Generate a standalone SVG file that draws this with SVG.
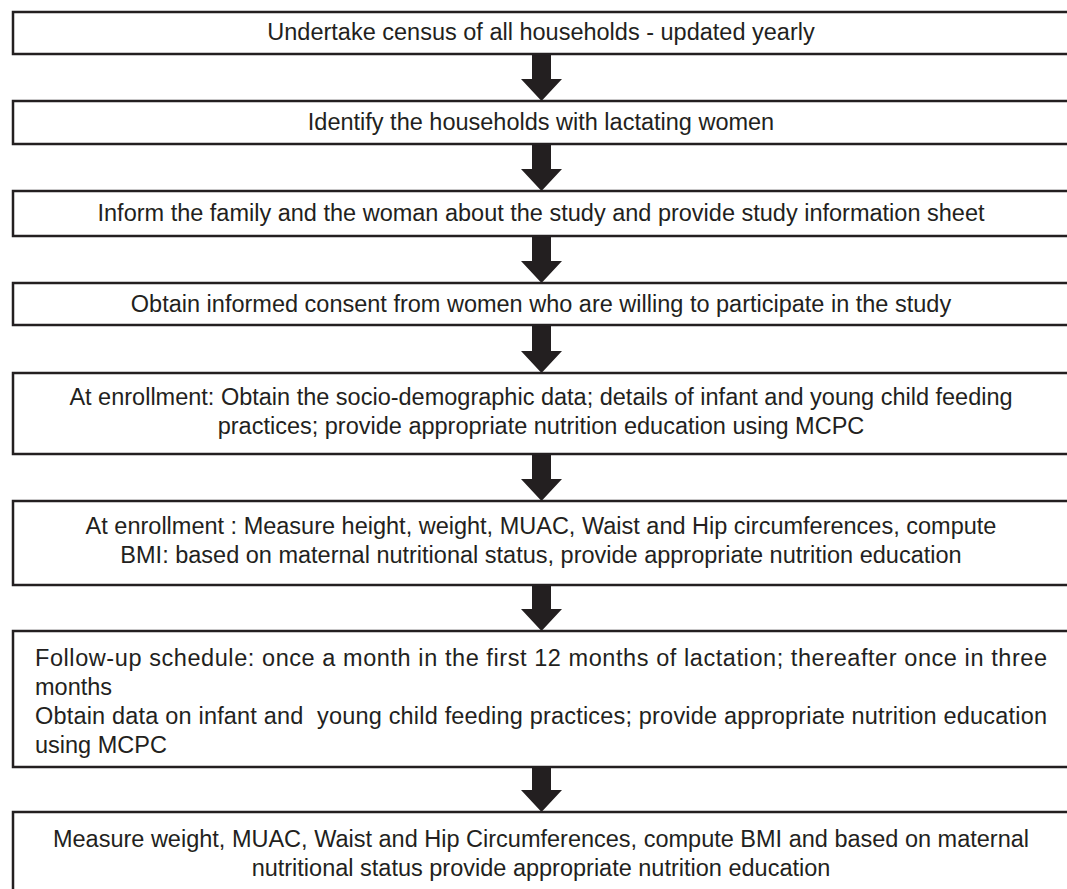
<svg xmlns="http://www.w3.org/2000/svg" width="1067" height="889" viewBox="0 0 1067 889">
<style>
.box{fill:#ffffff;stroke:#231f20;stroke-width:2.5}
.arrow{fill:#231f20;stroke:none}
text{font-family:"Liberation Sans",Arial,sans-serif;font-size:23.5px;fill:#231f20}
.c{text-anchor:middle}
</style>
<rect width="1067" height="889" fill="#ffffff"/>
<g id="connectors">
<path class="arrow" d="M532,54 V79 H521 L541.5,101 L562,79 H551 V54 Z"/>
<path class="arrow" d="M532,144 V169 H521 L541.5,191 L562,169 H551 V144 Z"/>
<path class="arrow" d="M532,236 V261 H521 L541.5,283 L562,261 H551 V236 Z"/>
<path class="arrow" d="M532,325 V351 H521 L541.5,373 L562,351 H551 V325 Z"/>
<path class="arrow" d="M532,454 V479 H521 L541.5,501 L562,479 H551 V454 Z"/>
<path class="arrow" d="M532,585 V609 H521 L541.5,631 L562,609 H551 V585 Z"/>
<path class="arrow" d="M532,767 V790 H521 L541.5,812 L562,790 H551 V767 Z"/>
</g>
<g id="n1">
<rect class="box" x="13" y="12" width="1070" height="42"/>
<text class="c" x="541" y="40">Undertake census of all households - updated yearly</text>
</g>
<g id="n2">
<rect class="box" x="13" y="101" width="1070" height="43"/>
<text class="c" x="541" y="130">Identify the households with lactating women</text>
</g>
<g id="n3">
<rect class="box" x="13" y="191" width="1070" height="45"/>
<text class="c" x="541" y="221">Inform the family and the woman about the study and provide study information sheet</text>
</g>
<g id="n4">
<rect class="box" x="13" y="283" width="1070" height="42"/>
<text class="c" x="541" y="312">Obtain informed consent from women who are willing to participate in the study</text>
</g>
<g id="n5">
<rect class="box" x="13" y="373" width="1070" height="81"/>
<text class="c" x="541" y="405">At enrollment: Obtain the socio-demographic data; details of infant and young child feeding</text>
<text class="c" x="541" y="434">practices; provide appropriate nutrition education using MCPC</text>
</g>
<g id="n6">
<rect class="box" x="13" y="501" width="1070" height="84"/>
<text class="c" x="541" y="534">At enrollment : Measure height, weight, MUAC, Waist and Hip circumferences, compute</text>
<text class="c" x="541" y="563">BMI: based on maternal nutritional status, provide appropriate nutrition education</text>
</g>
<g id="n7">
<rect class="box" x="13" y="631" width="1070" height="136"/>
<text x="35" y="666" textLength="1012" lengthAdjust="spacing">Follow-up schedule: once a month in the first 12 months of lactation; thereafter once in three</text>
<text x="35" y="695">months</text>
<text x="35" y="724" textLength="1012" lengthAdjust="spacing" xml:space="preserve">Obtain data on infant and  young child feeding practices; provide appropriate nutrition education</text>
<text x="35" y="753">using MCPC</text>
</g>
<g id="n8">
<rect class="box" x="13" y="812" width="1070" height="100"/>
<text class="c" x="541" y="847">Measure weight, MUAC, Waist and Hip Circumferences, compute BMI and based on maternal</text>
<text class="c" x="541" y="876">nutritional status provide appropriate nutrition education</text>
</g>
</svg>
